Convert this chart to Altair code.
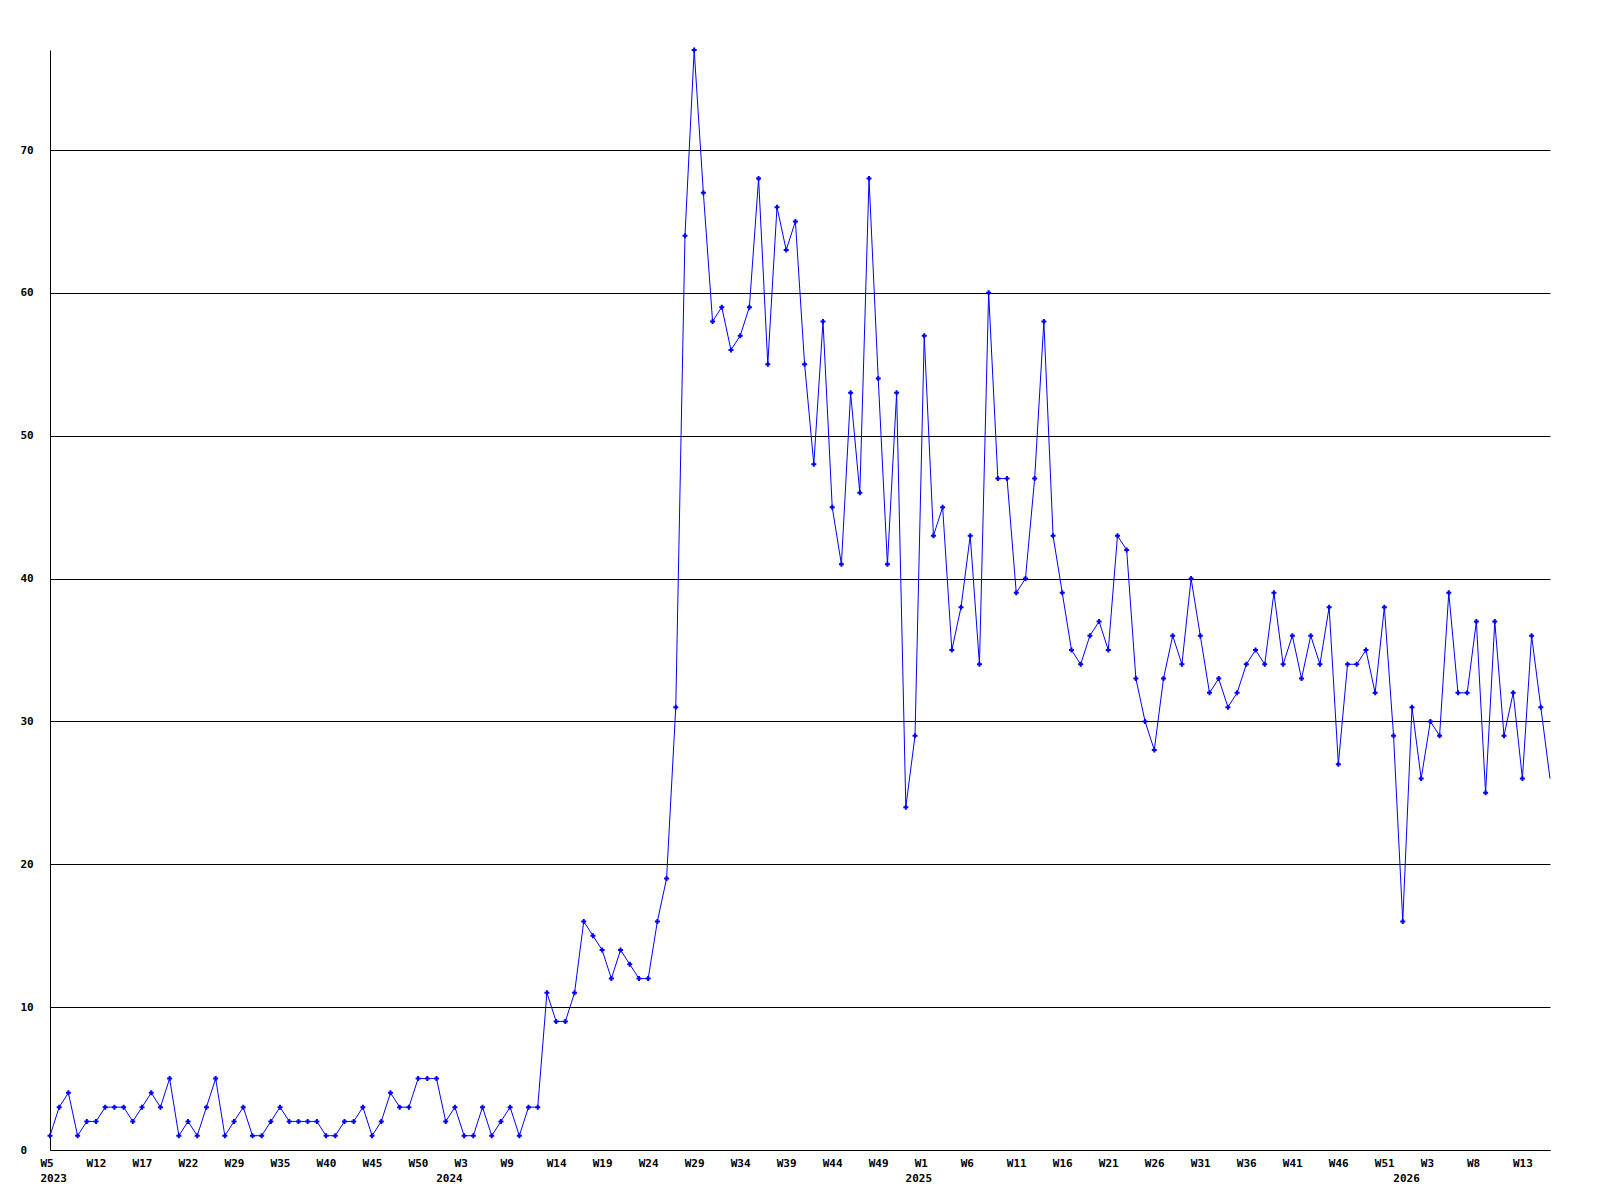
import altair as alt
import pandas as pd

# Weekly values
values = [
    1, 3, 4, 1, 2, 2, 3, 3, 3, 2,
    3, 4, 3, 5, 1, 2, 1, 3, 5, 1,
    2, 3, 1, 1, 2, 3, 2, 2, 2, 2,
    1, 1, 2, 2, 3, 1, 2, 4, 3, 3,
    5, 5, 5, 2, 3, 1, 1, 3, 1, 2,
    3, 1, 3, 3, 11, 9, 9, 11, 16, 15,
    14, 12, 14, 13, 12, 12, 16, 19, 31, 64,
    77, 67, 58, 59, 56, 57, 59, 68, 55, 66,
    63, 65, 55, 48, 58, 45, 41, 53, 46, 68,
    54, 41, 53, 24, 29, 57, 43, 45, 35, 38,
    43, 34, 60, 47, 47, 39, 40, 47, 58, 43,
    39, 35, 34, 36, 37, 35, 43, 42, 33, 30,
    28, 33, 36, 34, 40, 36, 32, 33, 31, 32,
    34, 35, 34, 39, 34, 36, 33, 36, 34, 38,
    27, 34, 34, 35, 32, 38, 29, 16, 31, 26,
    30, 29, 39, 32, 32, 37, 25, 37, 29, 32,
    26, 36, 31, 26,
]

# x-axis tick labels (every 5th point) and year labels
week_ticks = list(range(0, 161, 5))
week_labels = [
    "W5", "W12", "W17", "W22", "W29", "W35", "W40", "W45", "W50",
    "W3", "W9", "W14", "W19", "W24", "W29", "W34", "W39", "W44", "W49",
    "W1", "W6", "W11", "W16", "W21", "W26", "W31", "W36", "W41", "W46", "W51",
    "W3", "W8", "W13",
]
year_ticks = [0, 43, 94, 147]
year_labels = ["2023", "2024", "2025", "2026"]

y_ticks = [0, 10, 20, 30, 40, 50, 60, 70]

n = len(values)
df = pd.DataFrame({"idx": list(range(n)), "value": values})

# build multi-line label expression
entries = {}
for t, l in zip(week_ticks, week_labels):
    entries[t] = [l, ""]
for t, l in zip(year_ticks, year_labels):
    if t in entries:
        entries[t][1] = l
    else:
        entries[t] = [" ", l]
tick_vals = sorted(entries.keys())
expr = "''"
for t in reversed(tick_vals):
    a, b = entries[t]
    if b:
        lab = "['%s','%s']" % (a, b)
    else:
        lab = "'%s'" % a
    expr = "datum.value == %d ? %s : (%s)" % (t, lab, expr)

FONT = "DejaVu Sans Mono"
BLUE = "#0000ff"

x_enc = alt.X(
    "idx:Q",
    scale=alt.Scale(domain=[0, n - 1], nice=False, zero=False),
    axis=alt.Axis(
        values=tick_vals, labelExpr=expr, title=None, grid=False,
        ticks=False, tickSize=0, labelAlign="left", labelBaseline="top",
        labelOffset=-10, labelPadding=7, labelFlush=False, labelOverlap=False,
        labelBound=False, labelLineHeight=15, labelFont=FONT, labelFontSize=11,
        labelFontWeight="bold", labelColor="black", domainColor="black",
        domainWidth=1,
    ),
)
y_enc = alt.Y(
    "value:Q",
    scale=alt.Scale(domain=[0, 77], nice=False),
    axis=alt.Axis(
        values=y_ticks, title=None, grid=True, gridColor="black",
        gridOpacity=1, gridWidth=1, ticks=False, tickSize=0,
        labelAlign="left", labelBaseline="middle", labelPadding=30,
        labelFont=FONT, labelFontSize=11, labelFontWeight="bold",
        labelColor="black", domainColor="black", domainWidth=1,
        labelOverlap=False, labelFlush=False,
    ),
)

base = alt.Chart(df)
line = base.mark_line(color=BLUE, strokeWidth=1).encode(x=x_enc, y=y_enc)
pts = base.transform_filter(alt.datum.idx < n - 1).mark_point(
    shape="cross", filled=True, size=25, color=BLUE, opacity=1
).encode(x=x_enc, y=y_enc)

chart = (
    alt.layer(line, pts)
    .properties(
        width=1500,
        height=1100,
        autosize=alt.AutoSizeParams(type="none"),
        padding={"left": 42, "top": 42, "right": 30, "bottom": 60},
        background="white",
    )
    .configure_view(stroke=None)
)

chart.save("out.html", embed_options={"renderer": "svg", "actions": False})
